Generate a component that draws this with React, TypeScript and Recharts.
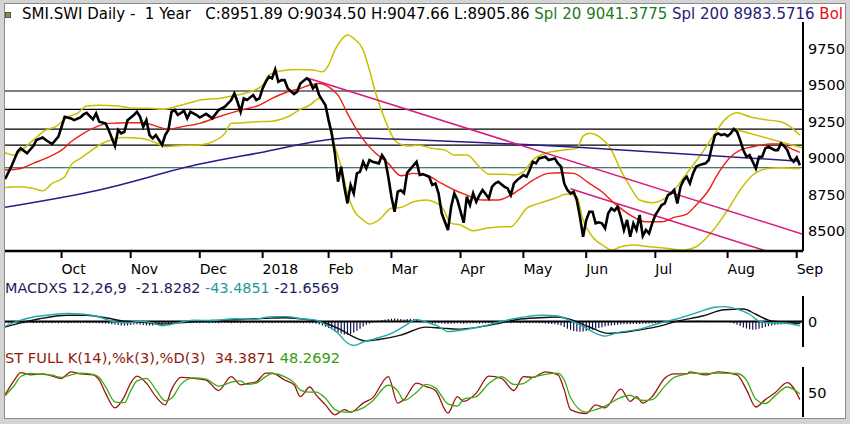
import React from 'react'
import { ComposedChart, LineChart, Line, Bar, XAxis, YAxis, ReferenceLine } from 'recharts'

// day index (trading sessions since start) -> value
const CLOSE: [number, number][] = [
  [0, 8857], [2, 8942], [4, 9045], [5, 9068], [7, 9034], [9, 9084], [10, 9125], [12, 9143], [13, 9125], [15, 9098],
  [17, 9148], [18, 9216], [19, 9285], [21, 9274], [22, 9262], [24, 9281], [25, 9301], [26, 9312], [28, 9267], [29, 9308],
  [30, 9251], [32, 9240], [33, 9194], [35, 9084], [36, 9194], [37, 9171], [38, 9182], [39, 9262], [41, 9297], [42, 9319],
  [43, 9285], [44, 9216], [45, 9262], [46, 9159], [47, 9137], [48, 9159], [50, 9091], [51, 9159], [52, 9194], [53, 9319],
  [54, 9331], [55, 9297], [57, 9326], [58, 9274], [59, 9319], [61, 9297], [62, 9280], [64, 9305], [66, 9274], [68, 9331],
  [70, 9354], [72, 9400], [73, 9446], [74, 9388], [75, 9319], [76, 9411], [77, 9400], [79, 9434], [80, 9400], [81, 9411],
  [82, 9480], [83, 9525], [84, 9560], [85, 9549], [86, 9610], [87, 9525], [88, 9537], [89, 9537], [90, 9480], [92, 9441],
  [93, 9457], [94, 9514], [96, 9549], [97, 9532], [98, 9480], [99, 9503], [100, 9434], [102, 9365], [103, 9262], [104, 9171],
  [105, 9034], [106, 8839], [107, 8942], [108, 8804], [109, 8690], [110, 8816], [111, 8759], [112, 8896], [113, 8907], [114, 8976],
  [115, 8930], [116, 8988], [117, 8976], [119, 8965], [120, 9022], [121, 8988], [122, 8873], [123, 8736], [124, 8633], [125, 8770],
  [126, 8780], [127, 8760], [128, 8900], [131, 8976], [132, 8885], [133, 8891], [135, 8873], [136, 8816], [137, 8827], [138, 8759],
  [139, 8622], [141, 8507], [142, 8667], [143, 8759], [144, 8713], [146, 8557], [147, 8736], [148, 8679], [149, 8759], [150, 8701],
  [151, 8747], [152, 8782], [154, 8725], [155, 8804], [156, 8827], [157, 8839], [159, 8804], [160, 8793], [161, 8747], [162, 8827],
  [163, 8850], [165, 8885], [166, 8873], [167, 8919], [168, 8976], [169, 8965], [170, 8999], [172, 9010], [173, 8988], [175, 8999],
  [176, 8965], [177, 8942], [178, 8827], [179, 8782], [180, 8759], [181, 8770], [182, 8713], [183, 8598], [184, 8461], [185, 8576],
  [186, 8633], [187, 8633], [188, 8553], [189, 8560], [190, 8553], [191, 8519], [192, 8622], [193, 8656], [194, 8640], [195, 8667],
  [196, 8598], [197, 8507], [198, 8576], [199, 8461], [200, 8553], [201, 8507], [202, 8610], [203, 8466], [204, 8507], [205, 8484],
  [206, 8553], [207, 8610], [208, 8644], [209, 8679], [210, 8690], [211, 8747], [212, 8759], [213, 8782], [214, 8690], [215, 8804],
  [216, 8850], [217, 8873], [218, 8827], [219, 8896], [220, 8942], [221, 8953], [223, 8965], [224, 8988], [225, 9079], [226, 9159],
  [227, 9171], [228, 9159], [229, 9166], [230, 9152], [231, 9171], [232, 9201], [233, 9182], [234, 9125], [235, 9056], [236, 9010],
  [237, 9022], [239, 8930], [240, 9010], [241, 9010], [242, 9068], [243, 9079], [245, 9056], [246, 9056], [247, 9102], [248, 9084],
  [249, 9056], [250, 8999], [251, 8976], [252, 9006], [253, 8952],
]

const MA20: [number, number][] = [
  [0, 8919], [5, 8930], [9, 8965], [14, 9010], [18, 9056], [21, 9113], [25, 9171], [29, 9216], [33, 9240], [39, 9244],
  [44, 9244], [48, 9221], [52, 9199], [56, 9216], [62, 9240], [68, 9285], [75, 9331], [81, 9365], [85, 9411], [90, 9457],
  [94, 9480], [97, 9503], [100, 9514], [103, 9491], [106, 9434], [109, 9308], [112, 9194], [115, 9102], [118, 9034], [122, 8965],
  [126, 8880], [130, 8896], [134, 8885], [139, 8827], [143, 8782], [147, 8747], [152, 8713], [157, 8713], [161, 8747], [165, 8804],
  [169, 8862], [173, 8896], [177, 8900], [181, 8896], [186, 8827], [190, 8770], [194, 8690], [199, 8610], [204, 8564], [209, 8564],
  [213, 8594], [217, 8617], [220, 8679], [224, 8782], [227, 8896], [231, 9010], [234, 9056], [238, 9079], [244, 9098], [247, 9098],
  [250, 9068], [253, 9041],
]

const BOL_UP: [number, number][] = [
  [0, 9038], [3, 9022], [6, 9068], [9, 9125], [13, 9194], [16, 9216], [20, 9285], [23, 9308], [26, 9359], [30, 9365],
  [36, 9359], [41, 9343], [46, 9343], [50, 9336], [55, 9359], [60, 9388], [62, 9400], [68, 9411], [74, 9434], [78, 9457],
  [82, 9503], [84, 9571], [88, 9601], [94, 9610], [98, 9606], [101, 9594], [103, 9640], [105, 9743], [107, 9812], [109, 9846],
  [111, 9823], [114, 9743], [116, 9606], [118, 9446], [121, 9262], [124, 9125], [126, 9095], [129, 9084], [131, 9091], [136, 9068],
  [140, 9056], [143, 9022], [147, 9022], [151, 8942], [154, 8891], [159, 8891], [162, 8885], [165, 8907], [168, 8988], [172, 9034],
  [178, 9056], [182, 9068], [184, 9152], [186, 9171], [189, 9150], [193, 9056], [196, 8919], [199, 8804], [202, 8713], [206, 8694],
  [210, 8725], [213, 8782], [217, 8896], [221, 9010], [226, 9171], [229, 9262], [233, 9312], [237, 9285], [243, 9262], [247, 9251],
  [250, 9216], [253, 9159],
]

const BOL_LOW: [number, number][] = [
  [0, 8800], [5, 8804], [9, 8793], [12, 8777], [15, 8827], [19, 8873], [21, 8953], [24, 8999], [27, 9045], [30, 9091],
  [33, 9120], [37, 9143], [43, 9137], [48, 9107], [51, 9079], [56, 9088], [62, 9091], [66, 9113], [70, 9171], [72, 9240],
  [76, 9244], [80, 9251], [85, 9255], [90, 9285], [94, 9336], [97, 9365], [100, 9411], [102, 9354], [103, 9240], [105, 9079],
  [107, 8942], [109, 8759], [111, 8644], [114, 8576], [116, 8548], [119, 8576], [123, 8656], [126, 8662], [130, 8701], [134, 8713],
  [139, 8667], [142, 8553], [145, 8541], [149, 8502], [153, 8519], [158, 8530], [161, 8530], [164, 8598], [166, 8656], [170, 8690],
  [175, 8725], [179, 8754], [182, 8736], [184, 8576], [187, 8461], [191, 8392], [193, 8369], [196, 8392], [200, 8404], [205, 8392],
  [211, 8381], [216, 8369], [220, 8392], [225, 8495], [230, 8644], [234, 8782], [238, 8885], [243, 8930], [247, 8935], [251, 8930],
  [253, 8930],
]

const MA200: [number, number][] = [
  [0, 8663], [30, 8782], [62, 8960], [81, 9038], [104, 9130], [110, 9141], [123, 9132], [190, 9066], [253, 8980],
]

const TREND_DOWN: [number, number][] = [[96, 9553], [254, 8478]]
const TREND_CHANNEL: [number, number][] = [[180, 8790], [242, 8365]]
const TREND_AUG: [number, number][] = [[232, 9201], [254, 9070]]
const LEVELS = [9462, 9336, 9200, 9090]
const LEVEL_LOW = 8935

const PRICE_TICKS = [8500, 8750, 9000, 9250, 9500, 9750]
const MONTH_TICKS = [18, 40, 62, 82, 103, 123, 145, 165, 185, 207, 230, 252]
const MONTH_LABELS = ['Oct', 'Nov', 'Dec', '2018', 'Feb', 'Mar', 'Apr', 'May', 'Jun', 'Jul', 'Aug', 'Sep']

const MACD_LINE: [number, number][] = [
  [0, -48], [4, 3], [9, 44], [14, 64], [20, 78], [25, 71], [30, 44], [34, 3], [39, -14], [43, 3],
  [47, -14], [50, -41], [55, -14], [60, 13], [66, 10], [73, 27], [79, 20], [85, 48], [90, 48], [94, 27],
  [99, 13], [102, -31], [106, -116], [109, -211], [111, -235], [114, -201], [118, -167], [123, -116], [127, -48], [131, 20],
  [134, -5], [138, -48], [141, -99], [146, -82], [151, -54], [157, -7], [162, 27], [166, 48], [171, 61], [176, 54],
  [179, 20], [184, -48], [188, -116], [191, -143], [195, -109], [202, -75], [208, -20], [214, 27], [221, 95], [226, 140],
  [229, 146], [233, 122], [237, 71], [240, 3], [244, -14], [248, -14], [253, -43],
]

const MACD_SIGNAL: [number, number][] = [
  [0, -54], [5, -14], [11, 27], [20, 61], [26, 61], [32, 37], [38, 3], [44, -7], [50, -24], [58, -7],
  [66, 10], [75, 20], [83, 31], [89, 37], [96, 20], [101, -7], [107, -82], [111, -150], [115, -191], [119, -177],
  [126, -133], [134, -55], [139, -65], [144, -75], [151, -54], [157, -20], [163, 20], [170, 37], [176, 44], [180, 20],
  [186, -54], [192, -116], [200, -92], [208, -48], [214, 3], [222, 54], [229, 115], [235, 122], [239, 71], [243, 13],
  [248, -7], [253, -20],
]

// one histogram value per session, day 0..253
const MACD_HIST = [
  -14, -16, -15, -17, -14, -15, -16, -14, -15, -17, -15, -14, -16, -15, -14, -16, -15, -17, -15, -14,
  -16, -15, -14, -15, -16, -14, -15, -17, -15, -14, -16, -18, -20, -22,
  -26, -30, -34, -38, -40, -38, -35, -30, -28, -30, -34, -38, -40, -38, -34, -28, -22,
  -18, -16, -15, -14, -16, -15, -14, -15, -16, -14, -15, -16, -14, -15, -17, -15, -14, -16, -15, -14,
  -15, -16, -14, -15, -17, -15, -14, -16, -15, -14, -15, -16, -14, -15, -17, -15, -14, -16, -15, -14,
  -15, -16, -14, -15, -17, -15, -16, -18, -22,
  -30, -40, -52, -64, -76,
  -90, -105, -118, -128, -130, -122, -108, -90,
  -70, -50, -32, -20, -10, -4,
  8, 14, 20, 24, 28, 30, 28, 24, 20, 24, 28, 24, 16, 8,
  -8, -14, -18, -20, -18, -16,
  -20, -22, -24, -22, -20, -18, -20, -22, -20, -18, -16, -18, -20, -18, -16, -15, -16, -18, -16, -15,
  -14, -15, -16, -14, -15, -16, -14, -15, -16, -14, -15, -16, -18, -20, -22, -25, -28, -32,
  -40, -55, -70, -82, -92, -98, -100, -98, -94, -88, -80, -72, -64, -56, -48, -42,
  -38, -35, -32, -30, -28, -28, -26, -25, -24, -24, -22, -22, -20, -20, -18, -16, -14,
  -10, -8, -6, -4, -2, 2, 4, 6, 8, 8, 10, 10, 8, 8, 6, 6, 4, 4, 2, 0, -4, -10, -20,
  -32, -45, -58, -68, -76, -80, -78, -72, -64, -55, -46, -40, -35, -32, -30,
  -28, -26, -25, -26, -24, -22,
]

const STOCH_K: [number, number][] = [
  [0, 46], [3, 80], [5, 97], [8, 92], [12, 94], [15, 89], [18, 84], [21, 99], [24, 94], [28, 92],
  [30, 80], [32, 50], [35, 16], [38, 42], [40, 73], [42, 89], [45, 73], [48, 42], [51, 23], [53, 58],
  [56, 86], [60, 84], [64, 80], [68, 56], [72, 88], [75, 69], [77, 72], [80, 76], [83, 96], [85, 96],
  [89, 80], [92, 69], [94, 42], [97, 64], [99, 46], [102, 23], [105, 0], [108, 12], [110, 6], [114, 27],
  [117, 39], [122, 88], [125, 27], [127, 35], [131, 73], [134, 65], [137, 56], [141, 4], [144, 42], [146, 31],
  [150, 50], [154, 89], [158, 84], [162, 56], [165, 88], [168, 86], [172, 99], [176, 92], [178, 58], [180, 12],
  [185, 3], [188, 23], [191, 16], [196, 59], [199, 31], [201, 42], [203, 27], [206, 42], [210, 84], [213, 94],
  [217, 94], [218, 99], [223, 92], [227, 99], [233, 92], [236, 58], [239, 18], [242, 35], [245, 50], [249, 74],
  [253, 35],
]

const STOCH_D: [number, number][] = [
  [0, 44], [3, 68], [5, 88], [8, 95], [12, 93], [15, 91], [18, 86], [21, 92], [24, 96], [28, 93],
  [30, 86], [32, 65], [35, 30], [38, 28], [40, 55], [42, 78], [45, 84], [48, 58], [51, 32], [53, 38],
  [56, 70], [60, 85], [64, 82], [68, 66], [72, 75], [75, 78], [77, 70], [80, 73], [83, 88], [85, 95],
  [89, 88], [92, 74], [94, 57], [97, 52], [99, 52], [102, 38], [105, 12], [108, 6], [110, 7], [114, 16],
  [117, 32], [122, 68], [125, 55], [127, 33], [131, 52], [134, 70], [137, 62], [141, 25], [144, 20], [146, 36],
  [150, 42], [154, 72], [158, 88], [162, 70], [165, 72], [168, 86], [172, 93], [176, 96], [178, 80], [180, 40],
  [185, 6], [188, 12], [191, 20], [196, 40], [199, 45], [201, 38], [203, 33], [206, 35], [210, 66], [213, 86],
  [217, 94], [218, 96], [223, 95], [227, 96], [233, 95], [236, 80], [239, 36], [242, 26], [245, 43], [249, 64],
  [253, 48],
]

const toRows = (pts: [number, number][]) => pts.map(([day, v]) => ({ day, v }))

const FONT = 'DejaVu Sans'
const PLOT_LEFT = 5
const AXIS_W = 47
const W = 850
const X_DOMAIN: [number, number] = [0, 254]

const MonthTick = (props: any) => {
  const { x, y, payload } = props
  const i = MONTH_TICKS.indexOf(payload.value)
  return (
    <text x={x} y={y + 16} fontSize={14} fontFamily={FONT} fill="#000">
      {MONTH_LABELS[i]}
    </text>
  )
}

const RightTick = (props: any) => {
  const { x, y, payload } = props
  return (
    <text x={x} y={y} dominantBaseline="central" fontSize={14.5} fontFamily={FONT} fill="#000">
      {payload.value}
    </text>
  )
}

function PricePanel() {
  return (
    <div style={{ position: 'absolute', left: 0, top: 0 }}>
      <ComposedChart
        width={W}
        height={285}
        data={toRows(CLOSE)}
        margin={{ top: 22, right: 0, left: PLOT_LEFT, bottom: 0 }}
      >
        <XAxis
          dataKey="day"
          type="number"
          domain={X_DOMAIN}
          ticks={MONTH_TICKS}
          interval={0}
          height={34}
          axisLine={{ stroke: '#000', strokeWidth: 2.5 }}
          tickLine={{ stroke: '#000', strokeWidth: 2 }}
          tickSize={7}
          tickMargin={0}
          tick={<MonthTick />}
          allowDataOverflow
        />
        <YAxis
          orientation="right"
          type="number"
          width={AXIS_W}
          domain={[8363, 9936]}
          ticks={PRICE_TICKS}
          interval={0}
          axisLine={{ stroke: '#000', strokeWidth: 2 }}
          tickLine={false}
          tickSize={0}
          tickMargin={5}
          tick={<RightTick />}
          allowDataOverflow
        />
        {LEVELS.map((lv) => (
          <ReferenceLine key={lv} y={lv} stroke="#000" strokeWidth={1.2} />
        ))}
        <ReferenceLine y={LEVEL_LOW} stroke="#1d4848" strokeWidth={1.2} />
        <Line data={toRows(BOL_UP)} dataKey="v" type="monotone" stroke="#c9c000" strokeWidth={1.5} dot={false} isAnimationActive={false} />
        <Line data={toRows(BOL_LOW)} dataKey="v" type="monotone" stroke="#c9c000" strokeWidth={1.5} dot={false} isAnimationActive={false} />
        <Line data={toRows(MA200)} dataKey="v" type="monotone" stroke="#2c1a8a" strokeWidth={1.5} dot={false} isAnimationActive={false} />
        <Line data={toRows(TREND_DOWN)} dataKey="v" type="linear" stroke="#d81b7a" strokeWidth={1.5} dot={false} isAnimationActive={false} />
        <Line data={toRows(TREND_CHANNEL)} dataKey="v" type="linear" stroke="#d81b7a" strokeWidth={1.5} dot={false} isAnimationActive={false} />
        <Line data={toRows(TREND_AUG)} dataKey="v" type="linear" stroke="#c9c000" strokeWidth={1.5} dot={false} isAnimationActive={false} />
        <Line data={toRows(MA20)} dataKey="v" type="monotone" stroke="#ec2016" strokeWidth={1.4} dot={false} isAnimationActive={false} />
        <Line dataKey="v" type="linear" stroke="#000" strokeWidth={2.6} dot={false} isAnimationActive={false} />
      </ComposedChart>
    </div>
  )
}

function MacdPanel() {
  const hist = MACD_HIST.map((h, day) => ({ day, h }))
  return (
    <div style={{ position: 'absolute', left: 0, top: 296 }}>
      <ComposedChart width={W} height={53} data={hist} margin={{ top: 0, right: 0, left: PLOT_LEFT, bottom: 2 }}>
        <XAxis
          dataKey="day"
          type="number"
          domain={X_DOMAIN}
          height={0}
          tick={false}
          tickLine={false}
          axisLine={{ stroke: '#000', strokeWidth: 2.5 }}
          allowDataOverflow
        />
        <YAxis
          orientation="right"
          type="number"
          width={AXIS_W}
          domain={[-250, 250]}
          ticks={[0]}
          axisLine={{ stroke: '#000', strokeWidth: 2 }}
          tickLine={false}
          tickSize={0}
          tickMargin={5}
          tick={<RightTick />}
          allowDataOverflow
        />
        <Bar dataKey="h" fill="#101050" barSize={1.2} isAnimationActive={false} />
        <ReferenceLine y={0} stroke="#000" strokeWidth={2.2} />
        <Line data={toRows(MACD_SIGNAL)} dataKey="v" type="monotone" stroke="#111" strokeWidth={1.4} dot={false} isAnimationActive={false} />
        <Line data={toRows(MACD_LINE)} dataKey="v" type="monotone" stroke="#22a9a9" strokeWidth={1.4} dot={false} isAnimationActive={false} />
      </ComposedChart>
    </div>
  )
}

function StochPanel() {
  return (
    <div style={{ position: 'absolute', left: 0, top: 367 }}>
      <LineChart width={W} height={52} data={toRows(STOCH_K)} margin={{ top: 0, right: 0, left: PLOT_LEFT, bottom: 2 }}>
        <XAxis
          dataKey="day"
          type="number"
          domain={X_DOMAIN}
          height={0}
          tick={false}
          tickLine={false}
          axisLine={{ stroke: '#000', strokeWidth: 2.5 }}
          allowDataOverflow
        />
        <YAxis
          orientation="right"
          type="number"
          width={AXIS_W}
          domain={[-5, 110]}
          ticks={[50]}
          axisLine={{ stroke: '#000', strokeWidth: 2 }}
          tickLine={false}
          tickSize={0}
          tickMargin={5}
          tick={<RightTick />}
          allowDataOverflow
        />
        <Line dataKey="v" type="monotone" stroke="#9a1410" strokeWidth={1.3} dot={false} isAnimationActive={false} />
        <Line data={toRows(STOCH_D)} dataKey="v" type="monotone" stroke="#3caa12" strokeWidth={1.3} dot={false} isAnimationActive={false} />
      </LineChart>
    </div>
  )
}

const labelStyle: React.CSSProperties = {
  position: 'absolute',
  whiteSpace: 'nowrap',
  fontFamily: FONT,
  lineHeight: '16px',
}

export default function App() {
  return (
    <div style={{ position: 'absolute', left: 0, top: 0, width: 850, height: 424, background: '#d4d4d4', overflow: 'hidden' }}>
      <div
        style={{
          position: 'absolute',
          left: 4,
          top: 3,
          width: 842,
          height: 416,
          background: '#fff',
          border: '1px solid #8a8a8a',
          boxSizing: 'border-box',
        }}
      />
      <div style={{ position: 'absolute', left: 5, top: 12, width: 4, height: 4, background: '#8c8c3a', border: '1px solid #555' }} />
      <div style={{ ...labelStyle, left: 22, top: 6, fontSize: 15, color: '#000' }}>
        SMI.SWI Daily -&nbsp; 1 Year &nbsp; C:8951.89 O:9034.50 H:9047.66 L:8905.86{' '}
        <span style={{ color: '#1d7a1d' }}>Spl 20 9041.3775</span>{' '}
        <span style={{ color: '#2a1a78' }}>Spl 200 8983.5716</span>{' '}
        <span style={{ color: '#e01010' }}>Bol</span>
      </div>
      <div style={{ ...labelStyle, left: 5, top: 280, fontSize: 14.4, color: '#1c1c5c' }}>
        MACDXS 12,26,9&nbsp; -21.8282 <span style={{ color: '#1a9a9a' }}>-43.4851</span> -21.6569
      </div>
      <div style={{ ...labelStyle, left: 5, top: 350, fontSize: 14.6, color: '#8e1a0e' }}>
        ST FULL K(14),%k(3),%D(3)&nbsp; 34.3871 <span style={{ color: '#3a9a12' }}>48.2692</span>
      </div>
      <PricePanel />
      <MacdPanel />
      <StochPanel />
    </div>
  )
}
